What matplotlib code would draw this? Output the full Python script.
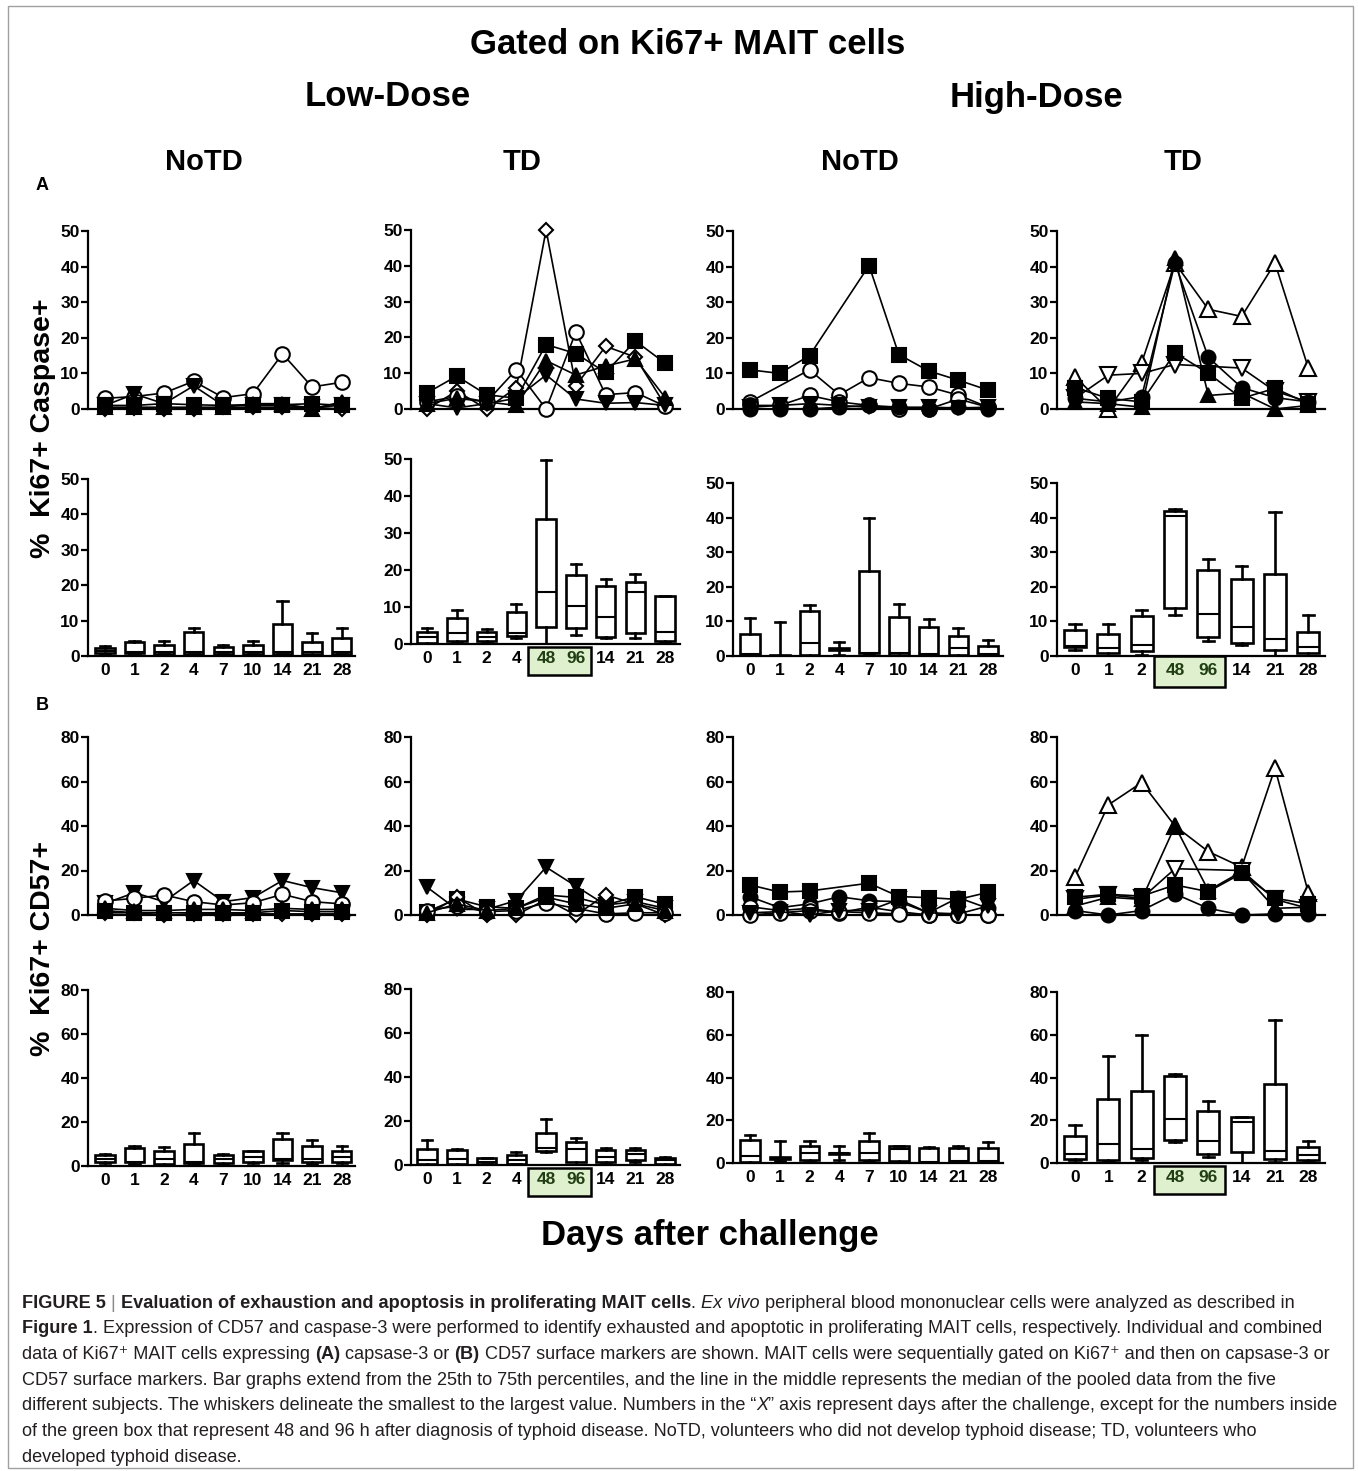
import numpy as np
import matplotlib.pyplot as plt
import matplotlib.transforms as mtransforms
from matplotlib.patches import Rectangle

plt.rcParams['font.family'] = ['Liberation Sans', 'DejaVu Sans']
plt.rcParams['font.weight'] = 'bold'

# ---- categories (x axis) ----
DAYS_NOTD = ['0', '1', '2', '4', '7', '10', '14', '21', '28']
DAYS_LOW_TD = ['0', '1', '2', '4', '48', '96', '14', '21', '28']
DAYS_HIGH_TD = ['0', '1', '2', '48', '96', '14', '21', '28']

# ---- (A) % Ki67+ Caspase+ : individual subjects ----
A_LOW_NOTD = [
    ('diamond_open', [0.0, 0.3, 0.0, 0.0, 0.5, 0.5, 0.5, 0.5, 0.0]),
    ('circle_open', [3.0, 3.5, 4.5, 7.8, 3.2, 4.3, 15.5, 6.2, 7.5]),
    ('tri_down', [1.0, 4.2, 1.5, 6.5, 1.0, 1.0, 1.0, 0.5, 1.0]),
    ('tri_up', [0.5, 0.5, 0.5, 0.5, 0.5, 1.5, 1.5, 0.0, 2.0]),
    ('square', [1.0, 1.0, 1.5, 1.2, 1.0, 1.2, 1.2, 1.5, 1.0]),
]
A_LOW_TD = [
    ('diamond_open', [0.0, 5.0, 0.0, 6.0, 50.0, 6.5, 17.5, 14.5, 1.0]),
    ('square', [4.5, 9.2, 4.0, 3.0, 18.0, 15.5, 10.2, 19.0, 12.8]),
    ('circle_open', [2.0, 3.5, 2.0, 11.0, 0.0, 21.5, 4.0, 4.6, 0.8]),
    ('tri_up', [1.5, 3.0, 2.0, 1.0, 13.5, 9.5, 12.0, 14.0, 3.2]),
    ('tri_down', [1.5, 0.3, 1.5, 3.0, 9.5, 2.8, 1.6, 1.8, 1.0]),
]
A_HIGH_NOTD = [
    ('square', [11.0, 10.0, 15.0, None, 40.3, 15.3, 10.7, 8.1, 5.3]),
    ('circle_open', [2.0, None, 11.0, 4.0, 8.8, 7.2, 6.2, 3.9, 0.5]),
    ('circle_open', [1.0, 1.0, 3.8, 2.0, 1.0, 0.0, 0.0, 2.8, 0.5]),
    ('circle_filled', [0.0, 0.0, 0.0, 0.5, 1.0, 0.5, 0.0, 0.5, 0.0]),
    ('tri_down', [0.5, 1.0, 1.5, 1.0, 0.5, 0.5, 0.5, 0.3, 0.5]),
]
A_HIGH_TD = [
    ('tri_up_open', [9.0, 0.0, 13.0, 41.0, 28.0, 26.0, 41.0, 11.5]),
    ('tri_down_open', [3.0, 9.5, 10.0, 12.5, None, 11.5, 5.0, 2.0]),
    ('square', [6.0, 3.0, 2.0, 15.8, 10.0, 3.0, 5.8, 1.5]),
    ('circle_filled', [3.0, 2.0, 3.5, 41.0, 14.5, 6.0, 3.2, 2.0]),
    ('tri_up', [2.0, 1.5, 0.5, 42.5, 3.8, 4.5, 0.0, 1.0]),
]

# ---- (A) pooled: min, 25th, median, 75th, max ----
A_LOW_NOTD_BOX = dict(
    low=[0.5, 0.8, 0.5, 0.5, 0.5, 0.5, 0.5, 0.3, 0.5],
    q1=[0.8, 0.9, 0.6, 0.6, 0.6, 0.6, 0.6, 0.5, 0.6],
    med=[1.5, 1.0, 1.0, 1.2, 1.0, 1.0, 1.2, 1.0, 1.0],
    q3=[2.2, 4.0, 3.1, 6.9, 2.6, 3.1, 9.0, 3.9, 5.0],
    high=[2.8, 4.2, 4.2, 7.8, 3.1, 4.3, 15.6, 6.4, 7.8],
)
A_LOW_TD_BOX = dict(
    low=[0.0, 0.2, 0.3, 1.5, 0.0, 2.4, 1.5, 1.5, 0.5],
    q1=[0.3, 0.9, 0.7, 2.1, 4.6, 4.3, 1.9, 3.0, 0.7],
    med=[2.0, 3.0, 2.0, 3.0, 14.0, 10.4, 7.2, 14.0, 3.2],
    q3=[3.2, 7.0, 3.2, 8.6, 33.9, 18.7, 15.8, 16.8, 12.9],
    high=[4.3, 9.3, 4.0, 10.8, 49.8, 21.7, 17.6, 18.9, 13.0],
)
A_HIGH_NOTD_BOX = dict(
    low=[0.0, 0.0, 0.0, 0.3, 0.5, 0.0, 0.0, 0.0, 0.0],
    q1=[0.3, 0.0, 0.3, 1.8, 0.8, 0.3, 0.3, 0.3, 0.3],
    med=[0.5, 0.1, 3.9, 2.0, 1.0, 0.8, 0.5, 2.2, 0.5],
    q3=[6.4, 0.3, 13.0, 2.4, 24.6, 11.2, 8.5, 5.9, 3.0],
    high=[10.9, 9.9, 14.8, 4.0, 40.0, 15.0, 10.6, 8.2, 4.6],
)
A_HIGH_TD_BOX = dict(
    low=[1.7, 0.0, 0.3, 11.9, 4.2, 3.2, 0.0, 0.0],
    q1=[2.5, 1.0, 1.4, 13.8, 5.6, 3.7, 1.7, 1.0],
    med=[2.8, 2.2, 3.2, 40.6, 12.2, 8.5, 4.8, 2.5],
    q3=[7.5, 6.3, 11.6, 42.0, 24.9, 22.3, 23.6, 7.0],
    high=[9.3, 9.3, 13.3, 42.5, 28.1, 25.9, 41.6, 11.9],
)

# ---- (B) % Ki67+ CD57+ : individual subjects ----
B_LOW_NOTD = [
    ('diamond_open', [1.0, 1.0, 0.0, 0.5, 0.5, 0.5, 0.5, 0.5, 0.5]),
    ('tri_down', [5.2, 10.0, 6.0, 15.5, 6.0, 7.8, 15.5, 12.3, 10.0]),
    ('circle_open', [6.3, 7.5, 9.0, 6.0, 4.5, 5.5, 9.3, 6.0, 5.0]),
    ('tri_up', [3.0, 2.0, 2.0, 2.5, 2.5, 2.0, 3.0, 2.5, 2.5]),
    ('square', [2.0, 1.0, 1.0, 1.0, 1.0, 1.0, 2.0, 1.5, 1.5]),
]
B_LOW_TD = [
    ('tri_down', [12.5, 2.5, 2.5, 6.5, 21.5, 13.0, 4.5, 6.0, 3.0]),
    ('square', [1.5, 7.2, 3.7, 3.0, 9.0, 7.9, 4.5, 8.2, 4.8]),
    ('diamond_open', [0.0, 8.0, 0.0, 0.0, 7.0, 0.0, 9.0, 5.0, 0.0]),
    ('circle_open', [2.0, 4.0, 1.5, 2.0, 5.5, 3.0, 0.5, 1.0, 1.0]),
    ('tri_up', [1.0, 5.0, 2.0, 3.0, 8.0, 5.0, 3.0, 5.0, 2.0]),
]
B_HIGH_NOTD = [
    ('square', [13.5, 10.3, 10.8, None, 14.3, 8.3, 7.8, 7.0, 10.2]),
    ('circle_filled', [8.2, 3.3, 5.0, 8.2, 6.4, 6.0, 1.0, 7.8, 3.0]),
    ('circle_open', [3.7, 2.0, 3.0, 1.0, 3.5, 1.5, 0.0, 0.0, 0.0]),
    ('circle_open', [0.0, 1.0, 2.0, 1.5, 1.0, 0.5, 0.0, 0.0, 0.0]),
    ('tri_down', [1.0, 1.5, 0.0, 2.0, 2.0, 7.0, 1.0, 0.5, 4.0]),
]
B_HIGH_TD = [
    ('tri_up_open', [17.0, 49.5, 59.5, 40.0, 28.5, 21.5, 66.0, 10.0]),
    ('tri_down_open', [7.0, 9.0, 7.5, 20.8, None, 20.0, 7.0, 3.0]),
    ('square', [8.0, 9.3, 8.5, 13.5, 10.5, 18.7, 7.5, 5.0]),
    ('tri_up', [4.0, 8.0, 7.0, 40.0, 11.0, 19.5, 3.0, 3.5]),
    ('circle_filled', [2.0, 0.0, 2.0, 9.5, 3.0, 0.0, 0.5, 0.5]),
]

# ---- (B) pooled ----
B_LOW_NOTD_BOX = dict(
    low=[1.5, 1.0, 0.5, 1.0, 1.0, 1.5, 1.5, 1.0, 1.5],
    q1=[1.8, 1.8, 1.0, 1.5, 1.5, 1.8, 2.6, 1.8, 1.8],
    med=[3.3, 2.0, 3.3, 2.0, 3.3, 4.0, 3.0, 3.0, 4.0],
    q3=[5.2, 8.2, 6.7, 10.2, 4.9, 6.7, 12.4, 9.1, 6.7],
    high=[5.6, 9.1, 8.6, 15.0, 5.3, 7.0, 15.2, 12.0, 9.1],
)
B_LOW_TD_BOX = dict(
    low=[0.0, 0.0, 0.3, 0.3, 5.8, 0.0, 0.5, 1.5, 0.0],
    q1=[0.3, 0.6, 0.6, 0.6, 6.4, 1.5, 1.5, 2.3, 0.3],
    med=[2.3, 2.7, 1.5, 2.3, 7.9, 7.3, 3.8, 4.9, 2.5],
    q3=[7.1, 6.8, 3.0, 4.6, 14.4, 10.3, 6.8, 6.8, 3.3],
    high=[11.4, 7.1, 3.3, 6.1, 20.8, 12.1, 7.9, 7.6, 3.5],
)
B_HIGH_NOTD_BOX = dict(
    low=[0.0, 1.1, 0.3, 1.6, 1.0, 0.3, 0.0, 0.0, 0.0],
    q1=[0.5, 2.0, 1.6, 4.3, 1.6, 0.8, 0.5, 0.5, 0.8],
    med=[3.4, 2.5, 4.7, 4.5, 4.7, 6.5, 0.6, 1.0, 1.0],
    q3=[10.9, 2.6, 7.8, 4.7, 10.1, 7.8, 7.0, 7.0, 7.0],
    high=[13.2, 10.1, 10.4, 7.8, 14.0, 8.1, 7.3, 7.8, 9.6],
)
B_HIGH_TD_BOX = dict(
    low=[1.6, 1.1, 1.6, 9.8, 2.8, 0.0, 0.5, 0.5],
    q1=[1.9, 1.6, 2.3, 10.9, 4.2, 5.0, 2.0, 1.6],
    med=[4.0, 8.9, 6.7, 20.5, 10.1, 19.4, 5.7, 3.6],
    q3=[12.7, 29.8, 33.9, 40.8, 24.5, 21.3, 36.8, 7.3],
    high=[17.9, 50.0, 60.1, 41.5, 29.0, 21.7, 66.8, 10.1],
)

MARKERS = {
    'circle_open': dict(marker='o', mfc='white', ms=10.5),
    'circle_filled': dict(marker='o', mfc='black', ms=10),
    'square': dict(marker='s', mfc='black', ms=9.5),
    'tri_up': dict(marker='^', mfc='black', ms=10),
    'tri_up_open': dict(marker='^', mfc='white', ms=11),
    'tri_down': dict(marker='v', mfc='black', ms=10),
    'tri_down_open': dict(marker='v', mfc='white', ms=11),
    'diamond_open': dict(marker='D', mfc='white', ms=7),
}

W, H = 1359, 1471
GREEN_FILL = '#dff0cf'
GREEN_TEXT = '#213d12'
CAPTION_COLOR = '#231f20'
TICK_SIZE = 12.5

fig = plt.figure(figsize=(W / 100, H / 100), dpi=100)


def px_axes(x0, x1, ytop, ybot):
    return fig.add_axes([x0 / W, 1 - ybot / H, (x1 - x0) / W, (ybot - ytop) / H])


def style_axes(ax, ymax, step, xlim):
    for s in ('top', 'right'):
        ax.spines[s].set_visible(False)
    for s in ('left', 'bottom'):
        ax.spines[s].set_linewidth(1.6)
    ax.set_ylim(0, ymax)
    ax.set_yticks(np.arange(0, ymax + 1, step))
    ax.set_xlim(*xlim)
    ax.tick_params(axis='y', length=5, width=1.6, pad=1, labelsize=TICK_SIZE)
    ax.tick_params(axis='x', length=0, pad=5, labelsize=TICK_SIZE)
    ax.patch.set_alpha(0)


def draw_lines(ax, series):
    for style, vals in series:
        y = np.array([np.nan if v is None else v for v in vals], float)
        x = np.arange(len(y))
        ok = ~np.isnan(y)
        ax.plot(x[ok], y[ok], color='black', lw=1.2, mec='black', mew=1.5,
                clip_on=False, zorder=3, **MARKERS[style])
    ax.set_xticks([])


def draw_boxes(ax, box, labels, green=None, gap_px=(3, 31)):
    stats = [dict(whislo=lo, q1=a, med=m, q3=b, whishi=hi)
             for lo, a, m, b, hi in zip(box['low'], box['q1'], box['med'],
                                        box['q3'], box['high'])]
    lw = 1.9
    ax.bxp(stats, positions=np.arange(len(stats)), widths=0.66, capwidths=0.34,
           showfliers=False, patch_artist=True, manage_ticks=False,
           boxprops=dict(facecolor='white', edgecolor='black', linewidth=lw),
           medianprops=dict(color='black', linewidth=1.5),
           whiskerprops=dict(color='black', linewidth=lw),
           capprops=dict(color='black', linewidth=lw))
    ax.set_xticks(np.arange(len(labels)))
    ax.set_xticklabels(labels)
    if green is not None:
        i48, i96 = green
        h_px = ax.get_position().height * H
        trans = mtransforms.blended_transform_factory(ax.transData, ax.transAxes)
        ax.add_patch(Rectangle((i48 - 0.62, -gap_px[1] / h_px), (i96 - i48) + 1.12,
                               (gap_px[1] - gap_px[0]) / h_px, transform=trans,
                               facecolor=GREEN_FILL, edgecolor='black', lw=1.8,
                               clip_on=False, zorder=0.5))
        for i in (i48, i96):
            ax.get_xticklabels()[i].set_color(GREEN_TEXT)


COL_X = [(88, 355), (411, 680), (733, 1003), (1057, 1325)]
XLIMS = [(-0.57, 8.45), (-0.54, 8.5), (-0.57, 8.5), (-0.54, 7.5)]
A_LINE_Y = [(231, 409), (230, 409), (231, 409), (231, 409)]
A_BOX_Y = [(479, 656), (459, 644), (483, 656), (483, 656)]
B_LINE_Y = [(737, 915)] * 4
B_BOX_Y = [(990, 1166), (989, 1165), (992, 1163), (992, 1163)]

labels = [DAYS_NOTD, DAYS_LOW_TD, DAYS_NOTD, DAYS_HIGH_TD]
greens = [None, (4, 5), None, (3, 4)]
a_lines = [A_LOW_NOTD, A_LOW_TD, A_HIGH_NOTD, A_HIGH_TD]
a_boxes = [A_LOW_NOTD_BOX, A_LOW_TD_BOX, A_HIGH_NOTD_BOX, A_HIGH_TD_BOX]
b_lines = [B_LOW_NOTD, B_LOW_TD, B_HIGH_NOTD, B_HIGH_TD]
b_boxes = [B_LOW_NOTD_BOX, B_LOW_TD_BOX, B_HIGH_NOTD_BOX, B_HIGH_TD_BOX]

for c in range(4):
    x0, x1 = COL_X[c]
    # A: caspase
    ax = px_axes(x0, x1, *A_LINE_Y[c])
    style_axes(ax, 50, 10, XLIMS[c])
    draw_lines(ax, a_lines[c])
    ax = px_axes(x0, x1, *A_BOX_Y[c])
    style_axes(ax, 50, 10, XLIMS[c])
    draw_boxes(ax, a_boxes[c], labels[c], greens[c],
               gap_px=(3, 31) if c == 1 else (0, 31))
    # B: CD57
    ax = px_axes(x0, x1, *B_LINE_Y[c])
    style_axes(ax, 80, 20, XLIMS[c])
    draw_lines(ax, b_lines[c])
    ax = px_axes(x0, x1, *B_BOX_Y[c])
    style_axes(ax, 80, 20, XLIMS[c])
    draw_boxes(ax, b_boxes[c], labels[c], greens[c], gap_px=(3, 31))


def ftext(x, y, s, **kw):
    return fig.text(x / W, 1 - y / H, s, ha=kw.pop('ha', 'center'),
                    va=kw.pop('va', 'center'), **kw)


# headers
ftext(688, 44, 'Gated on Ki67+ MAIT cells', fontsize=25)
ftext(388, 97, 'Low-Dose', fontsize=25)
ftext(1036, 97, 'High-Dose', fontsize=25)
for x, s in [(204, 'NoTD'), (522, 'TD'), (860, 'NoTD'), (1183, 'TD')]:
    ftext(x, 162, s, fontsize=21)
ftext(42, 186, 'A', fontsize=13)
ftext(42, 706, 'B', fontsize=13)
ftext(43, 428, '%  Ki67+ Caspase+', fontsize=20.5, rotation=90)
ftext(43, 949, '%  Ki67+ CD57+', fontsize=20.5, rotation=90)
ftext(710, 1236, 'Days after challenge', fontsize=25)

# outer frame
fig.add_artist(Rectangle((8 / W, 1 - 1468 / H), (1353 - 8) / W, (1468 - 6) / H,
                         transform=fig.transFigure, fill=False,
                         edgecolor='#a0a0a0', lw=1))

# caption with mixed styles
renderer = fig.canvas.get_renderer()
CAP_SIZE = 13.1


def text_width(s, weight, style):
    t1 = fig.text(0, 0, 'I' + s + 'I', fontsize=CAP_SIZE, fontweight=weight, fontstyle=style)
    t2 = fig.text(0, 0, 'II', fontsize=CAP_SIZE, fontweight=weight, fontstyle=style)
    w = t1.get_window_extent(renderer).width - t2.get_window_extent(renderer).width
    t1.remove()
    t2.remove()
    return w


def rich_line(y, segments, x=22):
    for s, st in segments:
        weight = 'bold' if 'b' in st else 'normal'
        style = 'italic' if 'i' in st else 'normal'
        color = '#888888' if 'g' in st else CAPTION_COLOR
        ftext(x, y, s, ha='left', fontsize=CAP_SIZE, fontweight=weight,
              fontstyle=style, color=color)
        x += text_width(s, weight, style)


CAPTION = [
    [('FIGURE 5 ', 'b'), ('|', 'g'), (' Evaluation of exhaustion and apoptosis in proliferating MAIT cells', 'b'),
     ('. ', ''), ('Ex vivo', 'i'),
     (' peripheral blood mononuclear cells were analyzed as described in', '')],
    [('Figure 1', 'b'), ('. Expression of CD57 and caspase-3 were performed to identify exhausted and '
                         'apoptotic in proliferating MAIT cells, respectively. Individual and combined', '')],
    [('data of Ki67\u207a MAIT cells expressing ', ''), ('(A)', 'b'), (' capsase-3 or ', ''), ('(B)', 'b'),
     (' CD57 surface markers are shown. MAIT cells were sequentially gated on Ki67\u207a and then on capsase-3 or', '')],
    [('CD57 surface markers. Bar graphs extend from the 25th to 75th percentiles, and the line in the '
      'middle represents the median of the pooled data from the five', '')],
    [('different subjects. The whiskers delineate the smallest to the largest value. Numbers in the \u201c', ''),
     ('X', 'i'), ('\u201d axis represent days after the challenge, except for the numbers inside', '')],
    [('of the green box that represent 48 and 96 h after diagnosis of typhoid disease. NoTD, volunteers '
      'who did not develop typhoid disease; TD, volunteers who', '')],
    [('developed typhoid disease.', '')],
]
for i, segs in enumerate(CAPTION):
    rich_line(1303 + i * 25.7, segs)

fig.savefig('out.png', dpi=100)
